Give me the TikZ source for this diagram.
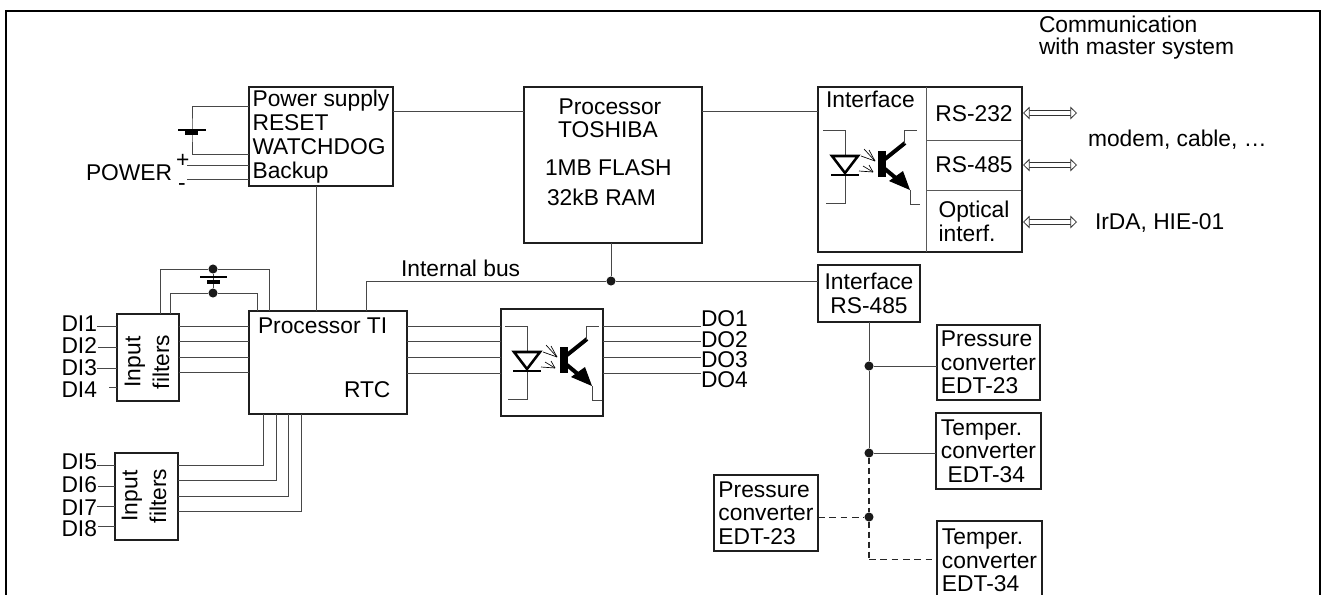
\documentclass[tikz,border=0pt]{standalone}
\usepackage{fontspec}
\setmainfont{Liberation Sans}
\usetikzlibrary{arrows.meta}
\newcommand{\fs}{\fontsize{17.1pt}{17.8pt}\selectfont}
\newcommand{\optoc}{%
  \draw[wire] (505,326) -- (527,326) -- (527,351);
  \draw[wire] (527,371) -- (527,399) -- (508,399);
  \draw[line width=1.9pt,fill=white,line join=miter] (514,352) -- (540,352) -- (527,369) -- cycle;
  \draw[line width=2.2pt] (513,371) -- (541,371);
  \foreach \a/\b in {546/345,543/352,551/346}{\draw[line width=.5pt] (\a,\b) -- (557,357);}
  \foreach \a/\b in {541/367,545/362,551/361}{\draw[line width=.5pt] (\a,\b) -- (555,368);}
  \fill (560,347) rectangle (568,373);
  \draw[line width=3pt] (567,355) -- (587,339);
  \draw[wire] (586,340) -- (586,326) -- (599,326);
  \draw[line width=3pt] (567,365) -- (579,375);
  \fill (592,386) -- (571,377) -- (585,367) -- cycle;
  \draw[wire] (592,386) -- (592,400) -- (602,400);
}
\tikzset{
  x=0.75pt,y=-0.75pt,
  every node/.style={font=\fs,inner sep=0pt,outer sep=0pt},
  wire/.style={line width=0.75pt,draw=black!72},
  dashwire/.style={line width=1.1pt,draw=black!85,dash pattern=on 4.5pt off 3pt},
  dashthin/.style={line width=0.7pt,draw=black!85,dash pattern=on 5pt off 3.5pt},
  box/.style={draw=black!88,line width=1.5pt,fill=white,align=left},
  cell/.style={draw=black!65,line width=0.75pt,align=left},
  dot/.style={circle,fill=black!90,minimum size=6.8pt},
  bidir/.style={line width=0.6pt,double=white,double distance=3.2pt,draw=black!80,
    {Triangle[open,fill=white,length=5pt,width=9.5pt,line width=0.6pt]}-{Triangle[open,fill=white,length=5pt,width=9.5pt,line width=0.6pt]}},
  txt/.style={anchor=base west},
  filt/.style={rotate=90,align=center},
}
\begin{document}
\begin{tikzpicture}
\clip (0,0) rectangle (1321,594);
\fill[white] (0,0) rectangle (1321,594);
\coordinate (fa) at (6,600); \coordinate (fb) at (6,11); \coordinate (fc) at (1320,11); \coordinate (fd) at (1320,600);
\draw[line width=1.9pt,line join=miter] (fa) -- (fb) -- (fc) -- (fd);

% boxes
\node[box,minimum width=108pt,minimum height=74.25pt] (pw) at (321,136.5) {Power supply\\RESET\\WATCHDOG\\Backup};
\node[box,minimum width=133.5pt,minimum height=117pt] (cpu) at (613,165) {};
\node[anchor=base] (cput) at (610,114) {Processor};
\node[anchor=base] (cpum) at (608,137) {TOSHIBA};
\node[txt] (flash) at (545,175) {1MB FLASH};
\node[txt] (ram) at (547,205) {32kB RAM};

\node[cell,minimum width=72pt,minimum height=39.75pt] (c232) at (974,113.5) {RS-232};
\node[cell,minimum width=72pt,minimum height=37.5pt] (c485) at (974,165) {RS-485};
\node[cell,minimum width=72pt,minimum height=46.5pt] (copt) at (974,221) {Optical\\interf.};
\node[draw=black!88,line width=1.5pt,minimum width=153pt,minimum height=123.75pt] (ifc) at (920,169.5) {};
\draw[cell] (926,87) -- (926,252);
\node[txt] (ifct) at (826,107) {Interface};

\node[box,minimum width=76.5pt,minimum height=42.75pt,align=center] (rs) at (869,293.5) {Interface\\RS-485};
\node[box,minimum width=77.25pt,minimum height=56.25pt] (pc1) at (988.5,362.5) {Pressure\\converter\\EDT-23};
\node[box,minimum width=78.75pt,minimum height=57pt] (tc1) at (988.5,451) {Temper.\\converter\\\hspace*{5pt}EDT-34};
\node[box,minimum width=78pt,minimum height=57pt] (pc2) at (766,513) {Pressure\\converter\\EDT-23};
\node[box,minimum width=78.75pt,minimum height=59.25pt] (tc2) at (989.5,560.5) {Temper.\\converter\\EDT-34};

\node[box,minimum width=46.5pt,minimum height=65.25pt] (f1) at (148,357.5) {};
\node[filt] (f1a) at (135,362) {Input};
\node[filt] (f1b) at (161,362) {filters};
\node[box,minimum width=47.25pt,minimum height=65.25pt] (f2) at (146.5,496.5) {};
\node[filt] (f2a) at (132,496) {Input};
\node[filt] (f2b) at (158,496) {filters};
\node[box,minimum width=118.5pt,minimum height=77.25pt] (ti) at (328,362.5) {};
\node[txt] (tit) at (258,333) {Processor TI};
\node[txt] (rtc) at (344,397) {RTC};
\node[box,minimum width=76.5pt,minimum height=80.25pt] (op) at (552,362.5) {};

% labels
\node[txt] (comm) at (1039,32) {Communication};
\node[txt] (mast) at (1039,54) {with master system};
\node[txt] (modem) at (1088,146) {modem, cable, \dots};
\node[txt] (irda) at (1095,229) {IrDA, HIE-01};
\node[txt] (bus) at (401,276) {Internal bus};
\node[txt] (power) at (86,180) {POWER};
\node[txt] (plus) at (176,167) {+};
\node[txt] (minus) at (178,190) {-};
\foreach \n/\y in {1/331,2/353,3/375,4/397}{\node[anchor=base east] (di\n) at (97,\y) {DI\n};}
\foreach \n/\y in {5/469,6/492,7/515,8/536}{\node[anchor=base east] (di\n) at (97,\y) {DI\n};}
\foreach \n/\y in {1/326,2/347,3/367,4/387}{\node[txt] (do\n) at (701,\y) {DO\n};}

% junctions
\node[dot] (jb) at (611,281) {};
\node[dot] (j1) at (869,366) {};
\node[dot] (j2) at (869,453) {};
\node[dot] (j3) at (869,517) {};
\node[dot] (bt) at (213,269) {};
\node[dot] (bb) at (213,293) {};

% power connections
\draw[wire] (pw.west |- 0,106) -| (192,130) -- (192,154) -- (pw.west |- 0,154);
\draw[line width=.9pt] (178,130) -- (206,130);
\fill (185,131) rectangle (198,135);
\coordinate (pp) at (187,165); \coordinate (pm) at (187,179);
\draw[wire] (pp) -- (pw.west |- pp);
\draw[wire] (pm) -- (pw.west |- pm);
\draw[wire] (pw.east |- 0,111) -- (cpu.west |- 0,111);
\draw[wire] (cpu.east |- 0,111) -- (ifc.west |- 0,111);
\draw[wire] (316,0 |- pw.south) -- (316,0 |- ti.north);

% bus
\draw[wire] (611,0 |- cpu.south) -- (jb);
\draw[wire] (366,0 |- ti.north) |- (jb);
\draw[wire] (jb) -- (rs.west |- jb);
\draw[wire] (869,0 |- rs.south) -- (j1) -- (j2);
\draw[wire] (j1) -- (pc1.west |- j1);
\draw[wire] (j2) -- (tc1.west |- j2);
\draw[dashwire] (j2) -- (j3);
\draw[dashthin] (pc2.east |- j3) -- (j3);
\coordinate (dc) at (869,559);
\draw[dashwire] (j3) -- (dc);
\draw[dashthin] (dc) -- (tc2.west |- dc);

% battery loop
\draw[wire] (160,0 |- f1.north) |- (bt);
\draw[wire] (bt) -| (269,0 |- ti.north);
\draw[wire] (170,0 |- f1.north) |- (bb);
\draw[wire] (bb) -| (257,0 |- ti.north);
\draw[wire] (bt) -- (bb);
\draw[line width=.9pt] (200,277) -- (227,277);
\fill (207,280) rectangle (220,284);

% inputs
\foreach \n/\y/\s in {1/326/0,2/347/1,3/368/0,5/465/0,6/486/1,7/506/0,8/526/1}{
  \pgfmathtruncatemacro{\fn}{\n<5?1:2}
  \draw[wire] ([xshift=\s*0.75pt]di\n.east |- 0,\y) -- (f\fn.west |- 0,\y);
}
\coordinate (d4s) at (109,387);
\draw[wire] (d4s) -- (f1.west |- d4s);
\foreach \y in {326,341,357,372}{
  \draw[wire] (f1.east |- 0,\y) -- (ti.west |- 0,\y);
}
\foreach \y/\x in {465/263,480/276,496/288,511/301}{
  \draw[wire] (f2.east |- 0,\y) -| (\x,0 |- ti.south);
}
\foreach \y in {326,341,357,373}{
  \draw[wire] (ti.east |- 0,\y) -- (op.west |- 0,\y);
}
\foreach \n/\y in {1/326,2/341,3/357,4/373}{
  \draw[wire] (op.east |- 0,\y) -- (do\n.west |- 0,\y);
}

% bidirectional arrows
\coordinate (a1) at (1077,113); \coordinate (a2) at (1077,165); \coordinate (a3) at (1077,222);
\draw[bidir] (1023,113) -- (a1);
\draw[bidir] (1023,165) -- (a2);
\draw[bidir] (1023,222) -- (a3);

% optocouplers
\begin{scope}\optoc\end{scope}
\begin{scope}[shift={(318,-196)}]\optoc\end{scope}
\end{tikzpicture}
\end{document}
